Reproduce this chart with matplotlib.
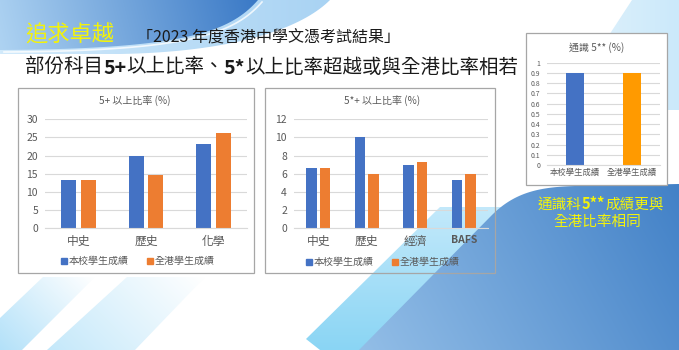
import numpy as np
import matplotlib
matplotlib.use("Agg")
import matplotlib.pyplot as plt
from matplotlib.patches import Polygon, Rectangle
from matplotlib.lines import Line2D

plt.rcParams['font.family'] = ['Noto Sans CJK TC', 'DejaVu Sans']

# ---- data -------------------------------------------------------------
series_names = ["本校學生成績", "全港學生成績"]

cat_5plus = ["中史", "歷史", "化學"]
school_5plus = [13.3, 20.0, 23.1]
hk_5plus = [13.3, 14.7, 26.3]

cat_5star = ["中史", "歷史", "經濟", "BAFS"]
school_5star = [6.67, 10.0, 6.94, 5.29]
hk_5star = [6.67, 5.95, 7.33, 6.0]

ls_labels = ["本校學生成績", "全港學生成績"]
ls_5starstar = [0.9, 0.9]

# ---- styling ----------------------------------------------------------
W, H = 679, 350
BLUE = "#4472C4"
ORANGE = "#ED7D31"
ORANGE2 = "#FF9A00"
GRID = "#D9D9D9"
TXT = "#595959"
YELLOW = "#F2F20C"

fig = plt.figure(figsize=(W / 100, H / 100), dpi=100)
fig.patch.set_facecolor("white")

# background layer in pixel units (origin top-left)
bg = fig.add_axes([0, 0, 1, 1])
bg.set_xlim(0, W)
bg.set_ylim(H, 0)
bg.axis("off")


def rect_px(x0, y0, x1, y1):
    return [x0 / W, 1 - y1 / H, (x1 - x0) / W, (y1 - y0) / H]


def hex2rgb(h):
    h = h.lstrip("#")
    return np.array([int(h[i:i + 2], 16) / 255 for i in (0, 2, 4)])


def bezier(p0, p1, p2, p3, n=40):
    t = np.linspace(0, 1, n)[:, None]
    p0, p1, p2, p3 = map(np.array, (p0, p1, p2, p3))
    return ((1 - t) ** 3) * p0 + 3 * ((1 - t) ** 2) * t * p1 + 3 * (1 - t) * t ** 2 * p2 + t ** 3 * p3


def grad_fill(verts, c0, c1, a0, a1, direction, z):
    verts = np.asarray(verts, float)
    poly = Polygon(verts, closed=True, facecolor="none", edgecolor="none")
    bg.add_patch(poly)
    xmin, ymin = verts.min(axis=0)
    xmax, ymax = verts.max(axis=0)
    xs = np.linspace(xmin, xmax, 200)
    ys = np.linspace(ymin, ymax, 200)
    X, Y = np.meshgrid(xs, ys)
    d = np.array(direction, float)
    d /= np.linalg.norm(d)
    proj = X * d[0] + Y * d[1]
    t = (proj - proj.min()) / (proj.max() - proj.min() + 1e-9)
    col0, col1 = hex2rgb(c0), hex2rgb(c1)
    rgba = np.zeros(X.shape + (4,))
    for k in range(3):
        rgba[..., k] = col0[k] + (col1[k] - col0[k]) * t
    rgba[..., 3] = a0 + (a1 - a0) * t
    im = bg.imshow(rgba, extent=(xmin, xmax, ymax, ymin), origin="upper",
                   aspect="auto", interpolation="bilinear", zorder=z)
    im.set_clip_path(poly)


# top-left banner with lighter swoosh
swoosh = np.vstack([[(330, 0)], bezier((330, 0), (300, 30), (230, 52), (120, 54))[1:],
                    [(0, 54), (0, 0)]])
grad_fill(swoosh, "#d2eafb", "#a9d3f3", 1, 1, (1, 0), 1)
banner_edge = bezier((258, 0), (230, 32), (185, 49), (0, 50))
banner = np.vstack([[(0, 0)], banner_edge, [(0, 50)]])
grad_fill(banner, "#aed3f2", "#3a79c6", 1, 1, (1, -0.25), 2)
bg.plot(banner_edge[:, 0] + 4, banner_edge[:, 1] + 2, color="white", lw=1.2, alpha=0.8, zorder=2.5)

# top-right faint streak
grad_fill([(632, 0), (679, 0), (679, 110), (560, 110)], "#e4f3fc", "#cbe9fa", 1, 1, (1, 0), 1)

# bottom-left faint stripes
grad_fill([(0, 318), (43, 277), (95, 277), (22, 350), (0, 350)], "#b3e1f9", "#ffffff", 1, 1, (1, -1), 1)
grad_fill([(47, 350), (127, 277), (205, 277), (135, 350)], "#c4e8fa", "#ffffff", 1, 1, (1, -1), 1)

# lower-right cyan band and main blue area
grad_fill([(320, 350), (306, 339), (440, 207), (525, 207), (400, 350)],
          "#8ad5f4", "#c3e9fb", 1, 1, (0, -1), 1)
blue_edge = np.vstack([[(359, 350), (492, 215)],
                       bezier((492, 215), (515, 192), (540, 187), (575, 186))[1:],
                       [(679, 184), (679, 350)]])
grad_fill(blue_edge, "#93bee7", "#4281c7", 1, 1, (1, -0.55), 2)

# ---- headings ---------------------------------------------------------
bg.text(25, 35, "追求卓越", fontsize=16, color=YELLOW, va="center", ha="left", zorder=5)
bg.text(137, 38, "「2023 年度香港中學文憑考試結果」", fontsize=11.5, color="#1a1a1a",
        va="center", ha="left", zorder=5)

parts = [("部份科目", "normal"), ("5+", "bold"), ("以上比率、", "normal"), ("5*", "bold"),
         ("以上比率超越或與全港比率相若", "normal")]
prev = bg.text(25, 67, parts[0][0], fontsize=14, color="#1a1a1a", va="center", ha="left", zorder=5)
for s, w in parts[1:]:
    prev = bg.annotate(s, xy=(1, 0), xycoords=prev, va="bottom", ha="left",
                       fontsize=14, color="#1a1a1a", fontweight=w, zorder=5)

yparts = [("通識科", "normal"), ("5**", "bold"), ("成績更與", "normal")]
prev = bg.text(538, 205, yparts[0][0], fontsize=10.5, color=YELLOW, va="center", ha="left", zorder=5)
for s, w in yparts[1:]:
    prev = bg.annotate(s, xy=(1, 0), xycoords=prev, va="bottom", ha="left",
                       fontsize=10.5, color=YELLOW, fontweight=w, zorder=5)
bg.text(597, 222, "全港比率相同", fontsize=10.5, color=YELLOW, va="center", ha="center", zorder=5)

# chart frames
bg.add_patch(Rectangle((18, 88), 236, 185, facecolor="none", edgecolor="#a6a6a6", lw=0.9, zorder=4))
bg.add_patch(Rectangle((265, 88), 230, 185, facecolor="none", edgecolor="#a6a6a6", lw=0.9, zorder=4))
bg.add_patch(Rectangle((526, 33), 141, 152, facecolor="white", edgecolor="#a6a6a6", lw=0.9, zorder=4))


def style_axes(ax, ymax, step, ytick_size, fmt):
    ax.set_facecolor("none")
    ax.set_ylim(0, ymax)
    ticks = np.arange(0, ymax + step / 2, step)
    ax.set_yticks(ticks)
    ax.set_yticklabels([fmt(v) for v in ticks])
    ax.yaxis.grid(True, color=GRID, lw=0.8)
    ax.set_axisbelow(True)
    for s in ("top", "right", "left"):
        ax.spines[s].set_visible(False)
    ax.spines["bottom"].set_color(GRID)
    ax.spines["bottom"].set_linewidth(0.8)
    ax.tick_params(axis="both", length=0, colors=TXT)
    ax.tick_params(axis="y", labelsize=ytick_size, pad=5)


def legend(ax, cx, cy):
    handles = [Line2D([], [], marker="s", linestyle="none", markersize=4.5, color=BLUE),
               Line2D([], [], marker="s", linestyle="none", markersize=4.5, color=ORANGE)]
    lg = ax.legend(handles, series_names, ncol=2, loc="center",
                   bbox_to_anchor=(cx / W, 1 - cy / H), bbox_transform=fig.transFigure,
                   frameon=False, fontsize=7.2, handlelength=0.6, handletextpad=0.2,
                   columnspacing=1.8, labelcolor=TXT)
    return lg


# ---- chart 1: 5+ ------------------------------------------------------
ax1 = fig.add_axes(rect_px(45, 119.3, 247, 228.3), zorder=6)
x1 = np.arange(len(cat_5plus))
ax1.bar(x1 - 0.145, school_5plus, 0.22, color=BLUE)
ax1.bar(x1 + 0.145, hk_5plus, 0.22, color=ORANGE)
ax1.set_xlim(-0.5, len(cat_5plus) - 0.5)
style_axes(ax1, 30, 5, 7.5, lambda v: f"{v:g}")
ax1.set_xticks(x1)
ax1.set_xticklabels(cat_5plus, fontsize=8.5)
ax1.tick_params(axis="x", pad=5)
legend(ax1, 138, 261)
bg.text(135, 101, "5+ 以上比率 (%)", fontsize=7.2, color=TXT, ha="center", va="center", zorder=5)

# ---- chart 2: 5*+ -----------------------------------------------------
ax2 = fig.add_axes(rect_px(294, 119.3, 488, 228.3), zorder=6)
x2 = np.arange(len(cat_5star))
ax2.bar(x2 - 0.14, school_5star, 0.22, color=BLUE)
ax2.bar(x2 + 0.14, hk_5star, 0.22, color=ORANGE)
ax2.set_xlim(-0.5, len(cat_5star) - 0.5)
style_axes(ax2, 12, 2, 7.5, lambda v: f"{v:g}")
ax2.set_xticks(x2)
ax2.set_xticklabels(cat_5star, fontsize=8.5)
for lab in ax2.get_xticklabels():
    if lab.get_text() == "BAFS":
        lab.set_fontsize(7.5)
        lab.set_fontweight("bold")
ax2.tick_params(axis="x", pad=5)
legend(ax2, 383, 262)
bg.text(382, 101, "5*+ 以上比率 (%)", fontsize=7.2, color=TXT, ha="center", va="center", zorder=5)

# ---- chart 3: liberal studies 5** ------------------------------------
ax3 = fig.add_axes(rect_px(547, 62.7, 660, 165), zorder=6)
x3 = np.arange(len(ls_labels))
ax3.bar(x3, ls_5starstar, 0.31, color=[BLUE, ORANGE2])
ax3.set_xlim(-0.5, len(ls_labels) - 0.5)
style_axes(ax3, 1, 0.1, 5, lambda v: f"{v:g}")
ax3.set_xticks(x3)
ax3.set_xticklabels(ls_labels, fontsize=6)
ax3.tick_params(axis="x", pad=2)
bg.text(597, 48, "通識 5** (%)", fontsize=7.2, color=TXT, ha="center", va="center", zorder=5)

fig.savefig("out.png", dpi=100)
